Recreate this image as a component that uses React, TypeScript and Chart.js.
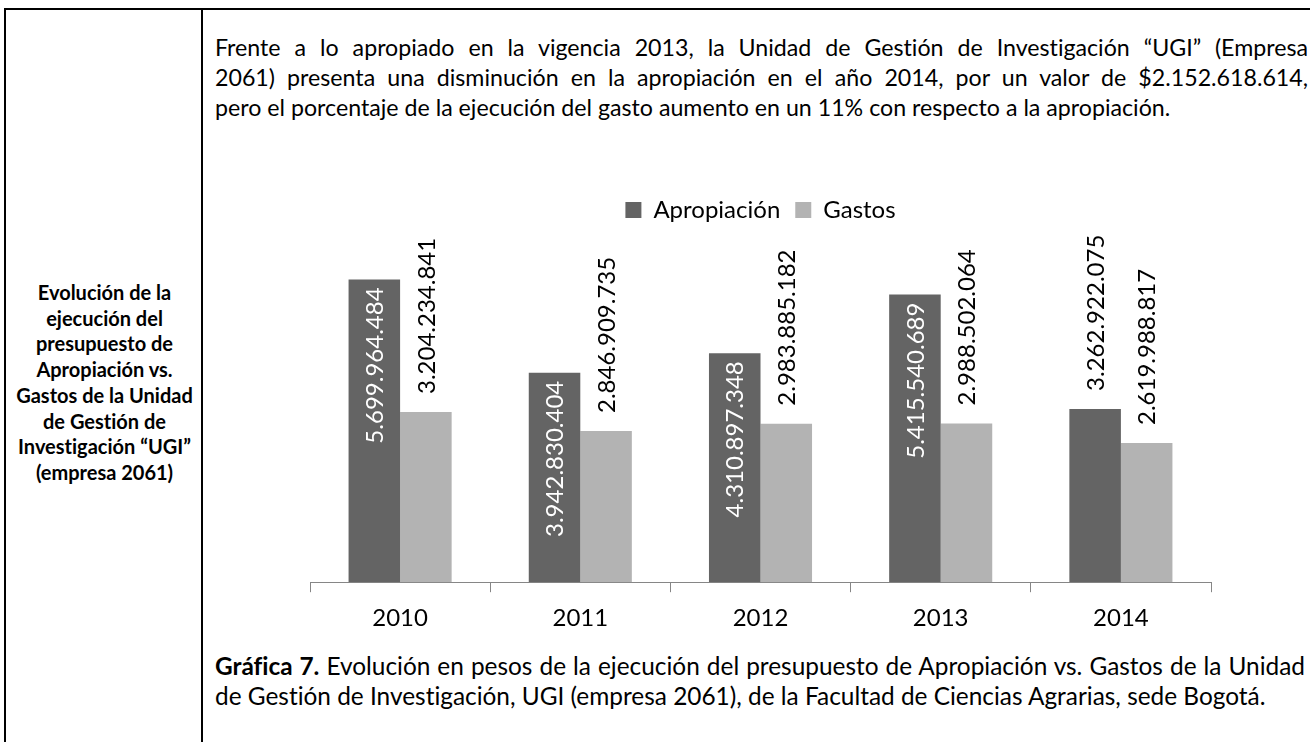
import React, { useEffect, useRef } from "react";
import { Chart, registerables } from "chart.js";

Chart.register(...registerables);

const categories = ["2010", "2011", "2012", "2013", "2014"];
const seriesNames = ["Apropiación", "Gastos"];
const apropiacion = [5699964484, 3942830404, 4310897348, 5415540689, 3262922075];
const gastos = [3204234841, 2846909735, 2983885182, 2988502064, 2619988817];

const introLines = [
  "Frente a lo apropiado en la vigencia 2013, la Unidad de Gestión de Investigación “UGI” (Empresa",
  "2061) presenta una disminución en la apropiación en el año 2014, por un valor de $2.152.618.614,",
  "pero el porcentaje de la ejecución del gasto aumento en un 11% con respecto a la apropiación.",
];
const captionBold = "Gráfica 7.";
const captionLines = [
  " Evolución en pesos de la ejecución del presupuesto de Apropiación vs. Gastos de la Unidad",
  "de Gestión de Investigación, UGI (empresa 2061), de la Facultad de Ciencias Agrarias, sede Bogotá.",
];
const sideLines = [
  "Evolución de la",
  "ejecución del",
  "presupuesto de",
  "Apropiación vs.",
  "Gastos de la Unidad",
  "de Gestión de",
  "Investigación “UGI”",
  "(empresa 2061)",
];

const FONT = "Lato, 'Open Sans', sans-serif";

const fmt = (v: number) => String(v).replace(/\B(?=(\d{3})+(?!\d))/g, ".");

const labelPlugin = {
  id: "barLabels",
  afterDatasetsDraw(chart: any) {
    const ctx = chart.ctx;
    ctx.save();
    ctx.font = `24px ${FONT}`;
    ctx.textBaseline = "middle";
    chart.data.datasets.forEach((ds: any, di: number) => {
      const meta = chart.getDatasetMeta(di);
      meta.data.forEach((bar: any, i: number) => {
        const text = fmt(ds.data[i]);
        const w = ctx.measureText(text).width;
        const h = bar.base - bar.y;
        const pad = 8;
        const inside = ds.labelInside && h > w + 2 * pad + 14;
        ctx.save();
        if (inside) {
          ctx.translate(bar.x, bar.y + pad);
          ctx.rotate(-Math.PI / 2);
          ctx.textAlign = "right";
          ctx.fillStyle = "#ffffff";
        } else {
          ctx.translate(bar.x, bar.y - 18);
          ctx.rotate(-Math.PI / 2);
          ctx.textAlign = "left";
          ctx.fillStyle = "#000000";
        }
        ctx.fillText(text, 0, 1);
        ctx.restore();
      });
    });
    ctx.restore();
  },
};

function BarChart() {
  const ref = useRef<HTMLCanvasElement>(null);
  useEffect(() => {
    if (!ref.current) return;
    const chart = new Chart(ref.current, {
      type: "bar",
      data: {
        labels: categories,
        datasets: [
          {
            label: seriesNames[0],
            data: apropiacion,
            backgroundColor: "#646464",
            borderWidth: 0,
            labelInside: true,
          } as any,
          {
            label: seriesNames[1],
            data: gastos,
            backgroundColor: "#b3b3b3",
            borderWidth: 0,
            labelInside: false,
          } as any,
        ],
      },
      options: {
        responsive: false,
        animation: false,
        layout: { padding: { left: 10, right: 10, top: 0, bottom: 0 } },
        datasets: { bar: { categoryPercentage: 0.572, barPercentage: 1 } },
        plugins: {
          legend: {
            display: true,
            position: "top",
            labels: {
              boxWidth: 16,
              boxHeight: 16,
              padding: 15,
              color: "#000",
              font: { family: FONT, size: 24 },
            },
          },
          tooltip: { enabled: false },
        },
        scales: {
          x: {
            grid: {
              display: true,
              drawOnChartArea: false,
              drawTicks: true,
              tickLength: 10,
              color: "#868686",
              offset: true,
            },
            border: { display: true, color: "#868686", width: 1 },
            ticks: { color: "#000", padding: 12, font: { family: FONT, size: 24 } },
          },
          y: {
            display: false,
            min: 0,
            max: 6593000000,
          },
        },
      },
      plugins: [labelPlugin],
    });
    return () => chart.destroy();
  }, []);
  return (
    <canvas
      ref={ref}
      width={921}
      height={462}
      style={{ position: "absolute", left: 300, top: 183, width: 921, height: 462 }}
    />
  );
}

export default function App() {
  const textBase: React.CSSProperties = {
    fontFamily: FONT,
    color: "#000",
    whiteSpace: "pre",
    fontVariantLigatures: "none",
    fontFeatureSettings: '"liga" 0, "clig" 0',
  };
  return (
    <div
      style={{
        position: "fixed",
        left: 0,
        top: 0,
        width: 1310,
        height: 742,
        background: "#fff",
        overflow: "hidden",
      }}
    >
      <div style={{ position: "absolute", left: 4, top: 8, width: 1306, height: 2, background: "#000" }} />
      <div style={{ position: "absolute", left: 4, top: 8, width: 2, height: 734, background: "#000" }} />
      <div style={{ position: "absolute", left: 201, top: 8, width: 2, height: 734, background: "#000" }} />

      <div
        style={{
          ...textBase,
          position: "absolute",
          left: 6,
          top: 280,
          width: 197,
          textAlign: "center",
          fontWeight: 700,
          fontSize: 20,
          lineHeight: "25.7px",
        }}
      >
        {sideLines.map((l, i) => (
          <div key={i}>{l}</div>
        ))}
      </div>

      <div
        style={{
          ...textBase,
          position: "absolute",
          left: 215,
          top: 32,
          width: 1093,
          fontSize: 23.2,
          lineHeight: "30px",
        }}
      >
        {introLines.map((l, i) => (
          <div
            key={i}
            style={{
              whiteSpace: "normal",
              textAlign: i < introLines.length - 1 ? "justify" : "left",
              textAlignLast: i < introLines.length - 1 ? "justify" : "left",
            }}
          >
            {l}
          </div>
        ))}
      </div>

      <BarChart />

      <div
        style={{
          ...textBase,
          position: "absolute",
          left: 215,
          top: 651,
          width: 1090,
          fontSize: 24.4,
          lineHeight: "30px",
        }}
      >
        <div style={{ whiteSpace: "normal", textAlign: "justify", textAlignLast: "justify" }}>
          <b>{captionBold}</b>
          {captionLines[0]}
        </div>
        <div style={{ whiteSpace: "normal", textAlign: "left" }}>{captionLines[1]}</div>
      </div>
    </div>
  );
}
